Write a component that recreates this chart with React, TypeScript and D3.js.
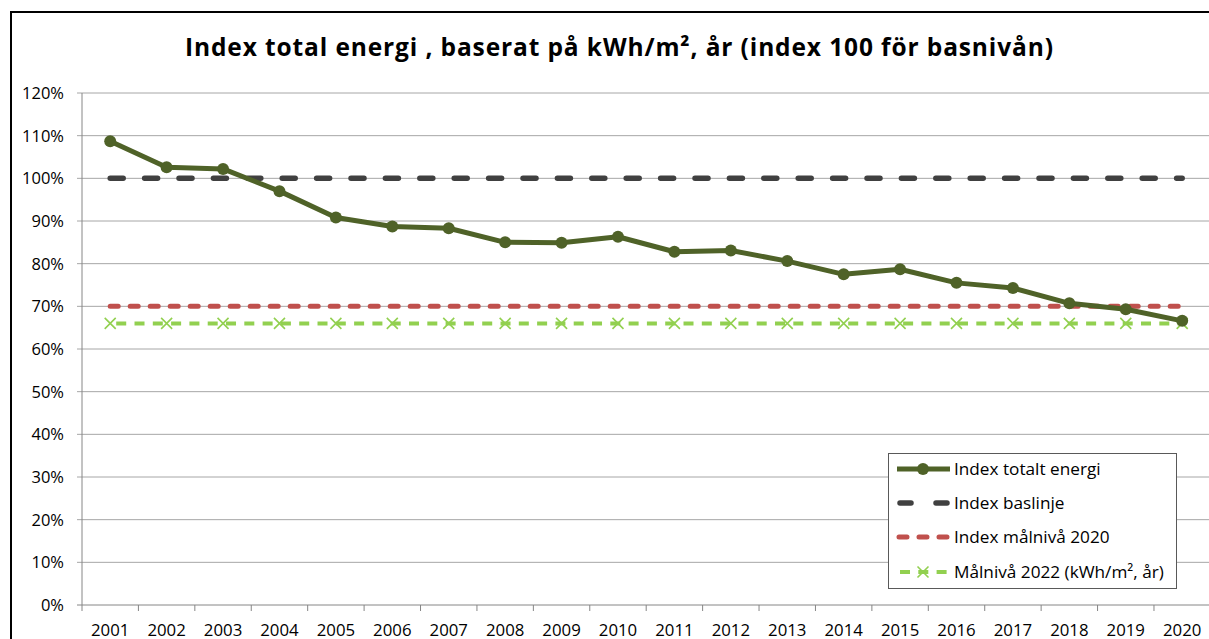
import React from "react";
import * as d3 from "d3";

const years: string[] = ["2001","2002","2003","2004","2005","2006","2007","2008","2009","2010","2011","2012","2013","2014","2015","2016","2017","2018","2019","2020"];
const indexTotal: number[] = [1.087,1.026,1.022,0.970,0.908,0.887,0.883,0.850,0.849,0.863,0.828,0.831,0.806,0.775,0.787,0.755,0.743,0.707,0.693,0.666];
const baseline: number[] = years.map(() => 1.0);
const target2020: number[] = years.map(() => 0.70);
const target2022: number[] = years.map(() => 0.66);
const yTicks: number[] = [0,0.1,0.2,0.3,0.4,0.5,0.6,0.7,0.8,0.9,1.0,1.1,1.2];
const title = "Index total energi , baserat på kWh/m², år (index 100 för basnivån)";
const legendLabels: string[] = ["Index totalt energi","Index baslinje","Index målnivå 2020","Målnivå 2022 (kWh/m², år)"];

const FONT = "'Open Sans', Lato, sans-serif";

export default function App() {
  const W = 1209, H = 639;
  const left = 82, right = 1210.4, top = 93, bottom = 605;
  const x = d3.scaleBand<string>().domain(years).range([left, right]).padding(0);
  const cx = (y: string) => (x(y) as number) + x.bandwidth() / 2;
  const y = d3.scaleLinear().domain([0, 1.2]).range([bottom, top]);
  const line = d3.line<number>().x((_, i) => cx(years[i])).y((d) => y(d));

  const olive = "#4F6228";
  const dark = "#404040";
  const red = "#C0504D";
  const green = "#92D050";

  const Xmark = ({ px, py, s = 5.5 }: { px: number; py: number; s?: number }) => (
    <path d={`M${px - s},${py - s}L${px + s},${py + s}M${px - s},${py + s}L${px + s},${py - s}`} stroke={green} strokeWidth={1.6} fill="none" />
  );

  const lx0 = 897, lx1 = 950, lxm = 923;
  const legendYs = [469, 503, 537, 572];

  return (
    <svg width={W} height={H} style={{ position: "absolute", left: 0, top: 0, background: "#fff" }} fontFamily={FONT}>
      <rect x={0} y={0} width={W} height={H} fill="#fff" />
      {/* frame */}
      <path d={`M11,${H + 5}V12H${W + 5}`} stroke="#000" strokeWidth={2} fill="none" />
      <text x={185} y={56} textAnchor="start" fontSize={24.5} fontWeight="bold" fill="#000" textLength={868} lengthAdjust="spacing">{title}</text>

      {/* gridlines */}
      {yTicks.map((t) => (
        <line key={t} x1={left - 5} x2={right} y1={y(t)} y2={y(t)} stroke={t === 0 ? "#868686" : "#A6A6A6"} strokeWidth={1} />
      ))}
      <line x1={left} x2={left} y1={top} y2={bottom} stroke="#868686" strokeWidth={1} />
      {years.map((yr) => (
        <line key={"t" + yr} x1={x(yr) as number} x2={x(yr) as number} y1={bottom} y2={bottom + 6} stroke="#868686" />
      ))}
      <line x1={right} x2={right} y1={bottom} y2={bottom + 6} stroke="#868686" />
      {yTicks.map((t) => (
        <text key={"yl" + t} x={64} y={y(t) + 6} textAnchor="end" fontSize={16.5} fill="#000">{Math.round(t * 100)}%</text>
      ))}
      {years.map((yr) => (
        <text key={"xl" + yr} x={cx(yr)} y={636} textAnchor="middle" fontSize={16.8} fill="#000">{yr}</text>
      ))}

      {/* series */}
      <path d={line(baseline) || ""} stroke={dark} strokeWidth={5.5} fill="none" strokeDasharray="13 21.4" strokeLinecap="round" />
      <path d={line(target2020) || ""} stroke={red} strokeWidth={5} fill="none" strokeDasharray="8 12" strokeLinecap="round" />
      <path d={line(target2022) || ""} stroke={green} strokeWidth={4} fill="none" strokeDasharray="10 8.3" strokeDashoffset={-6} />
      {target2022.map((v, i) => (
        <Xmark key={"x" + i} px={cx(years[i])} py={y(v)} />
      ))}
      <path d={line(indexTotal) || ""} stroke={olive} strokeWidth={5} fill="none" strokeLinejoin="round" />
      {indexTotal.map((v, i) => (
        <circle key={"c" + i} cx={cx(years[i])} cy={y(v)} r={6} fill={olive} />
      ))}

      {/* legend */}
      <rect x={888.5} y={453.5} width={288} height={135} fill="#fff" stroke="#595959" strokeWidth={1} />
      <line x1={lx0} x2={lx1} y1={legendYs[0]} y2={legendYs[0]} stroke={olive} strokeWidth={5} />
      <circle cx={lxm} cy={legendYs[0]} r={6} fill={olive} />
      <path d={`M${lx0 + 3},${legendYs[1]}H${lx0 + 14}M${lx1 - 14},${legendYs[1]}H${lx1 - 3}`} stroke={dark} strokeWidth={5.5} strokeLinecap="round" />
      <path d={`M${lx0 + 2},${legendYs[2]}H${lx1 - 2}`} stroke={red} strokeWidth={5} strokeDasharray="8 12" strokeLinecap="round" />
      <path d={`M${lx0},${legendYs[3]}H${lx1}`} stroke={green} strokeWidth={4} strokeDasharray="10 8.3" strokeDashoffset={-3} />
      <Xmark px={lxm} py={legendYs[3]} />
      {legendLabels.map((l, i) => (
        <text key={l} x={954} y={legendYs[i] + 6} fontSize={17.2} fill="#000">{l}</text>
      ))}
    </svg>
  );
}
